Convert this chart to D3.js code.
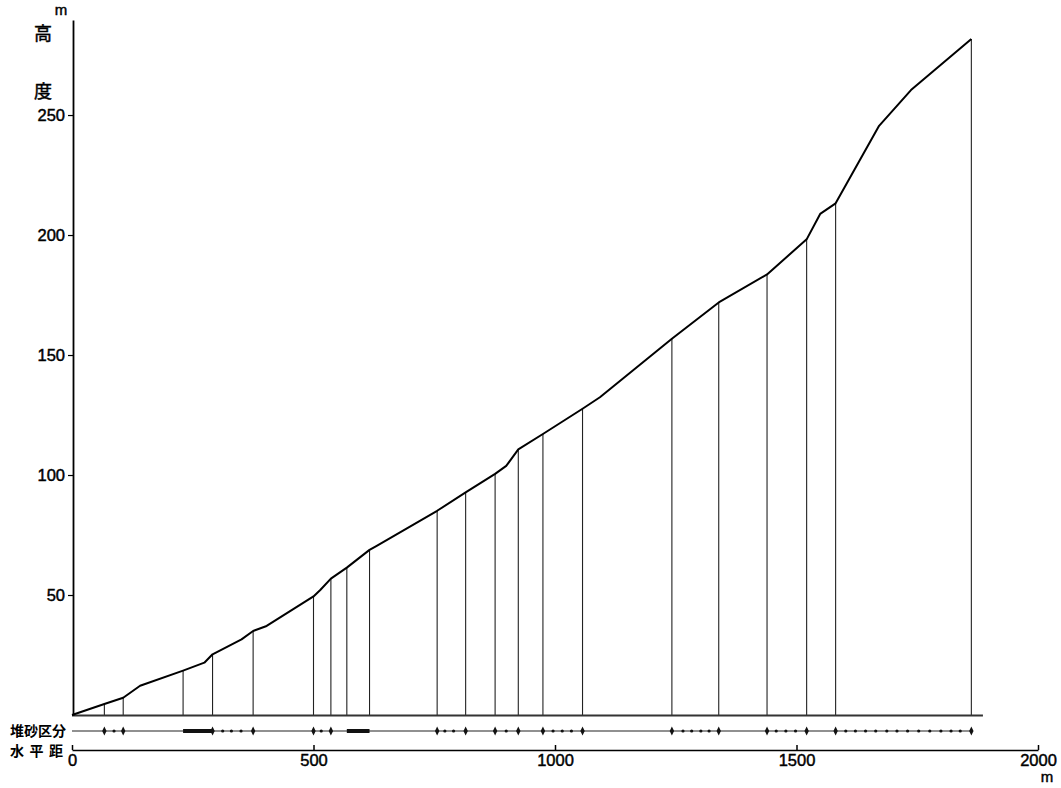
<!DOCTYPE html>
<html>
<head>
<meta charset="utf-8">
<script src="https://cdn.jsdelivr.net/npm/d3@7"></script>
<style>
  html, body { margin: 0; padding: 0; background: #fff; }
  svg { display: block; font-family: "Liberation Sans", Arial, sans-serif; }
  .cjk { font-family: "Noto Sans CJK JP", "Noto Sans CJK SC", sans-serif; }
  .heavy { stroke: #000; stroke-width: 0.45px; }
</style>
</head>
<body>
<div id="chart"></div>
<script>
/* --- data (horizontal distance m, elevation m) ------------------------- */
const profileDist = [0, 67, 106, 141, 230, 274, 291, 351, 375, 403, 500, 514, 536, 569, 616, 630,
  756, 815, 876, 899, 924, 975, 1057, 1093, 1242, 1339, 1439, 1521, 1549, 1581, 1671, 1737, 1862];
const profileElev = [0, 4.6, 7.2, 12.2, 18.5, 21.8, 25.3, 31.5, 35, 37.1, 49.4, 52.1, 56.8, 61.4, 68.8, 70.4,
  85.1, 92.8, 100.5, 103.8, 110.7, 117.1, 127.6, 132.4, 156.8, 171.9, 183.6, 198.2, 208.8, 213.2, 245.5, 260.4, 281.7];

// section lines dropped from the profile
const sectionDist = [67, 106, 230, 291, 375, 500, 536, 569, 616, 756, 815, 876, 924, 975, 1057,
  1242, 1339, 1439, 1521, 1581, 1862];

// 堆砂区分 row
const bigMarks = [67, 106, 291, 375, 500, 536, 756, 815, 876, 924, 975, 1057, 1242, 1339, 1439, 1521, 1581, 1862];
const smallMarks = [87, 312, 330, 350, 516, 772, 790, 899, 996, 1015, 1034,
  1265, 1283, 1302, 1319, 1458, 1478, 1498,
  1602, 1622, 1643, 1664, 1687, 1708, 1730, 1753, 1776, 1799, 1820, 1839];
const thickBars = [[230, 291], [569, 616]];

const yTicks = [50, 100, 150, 200, 250];
const xTicks = [0, 500, 1000, 1500, 2000];
const distLabel = ["水", "平", "距"];

/* --- layout ------------------------------------------------------------ */
const W = 1061, H = 788;
const baseY = 715, rowY = 731, axisY = 750;
const numFont = "Liberation Sans, Arial, sans-serif";

const svg = d3.select("#chart").append("svg")
  .attr("width", W)
  .attr("height", H);

const x = d3.scaleLinear().domain([0, 2000]).range([72, 1038]);
const y = d3.scaleLinear().domain([0, 289.6]).range([baseY, 20]);

/* --- section verticals ------------------------------------------------- */
const pts = profileDist.map((d, i) => ({ d, e: profileElev[i] }));
const elevAt = d => {
  const i = profileDist.indexOf(d);
  return i >= 0 ? profileElev[i] : 0;
};

svg.append("g")
  .selectAll("line")
  .data(sectionDist)
  .join("line")
    .attr("x1", d => x(d)).attr("x2", d => x(d))
    .attr("y1", baseY).attr("y2", d => y(elevAt(d)))
    .attr("stroke", "#222")
    .attr("stroke-width", 1.1);

/* --- ground baseline ---------------------------------------------------- */
svg.append("line")
  .attr("x1", x(0)).attr("x2", x(1886))
  .attr("y1", baseY + 0.5).attr("y2", baseY + 0.5)
  .attr("stroke", "#333")
  .attr("stroke-width", 1.8);

/* --- profile line ------------------------------------------------------- */
svg.append("path")
  .datum(pts)
  .attr("fill", "none")
  .attr("stroke", "#000")
  .attr("stroke-width", 2)
  .attr("stroke-linejoin", "round")
  .attr("d", d3.line().x(p => x(p.d)).y(p => y(p.e)));

/* --- y axis ------------------------------------------------------------- */
const yAxis = svg.append("g")
  .attr("transform", `translate(${x(0) + 1},0)`)
  .call(d3.axisLeft(y).tickValues(yTicks).tickFormat(d3.format("d"))
    .tickSize(5).tickSizeOuter(0).tickPadding(3));
yAxis.select(".domain").attr("stroke", "#000").attr("stroke-width", 1.8);
yAxis.selectAll(".tick line").attr("stroke", "#000").attr("stroke-width", 1.2);
yAxis.selectAll("text")
  .attr("class", "heavy")
  .attr("fill", "#000")
  .style("font-size", "16.5px")
  .style("font-family", numFont);

svg.append("text").attr("class", "heavy").attr("x", 61).attr("y", 15).text("m")
  .style("font-size", "15px").attr("text-anchor", "middle");
svg.append("text").attr("class", "cjk heavy").attr("x", 43).attr("y", 40).text("高")
  .style("font-size", "18px").attr("text-anchor", "middle");
svg.append("text").attr("class", "cjk heavy").attr("x", 43).attr("y", 98).text("度")
  .style("font-size", "18px").attr("text-anchor", "middle");

/* --- 堆砂区分 row -------------------------------------------------------- */
const row = svg.append("g");
row.append("line")
  .attr("x1", x(0)).attr("x2", x(1862))
  .attr("y1", rowY).attr("y2", rowY)
  .attr("stroke", "#222").attr("stroke-width", 1.1);

row.selectAll("rect")
  .data(thickBars)
  .join("rect")
    .attr("x", d => x(d[0]))
    .attr("y", rowY - 2)
    .attr("width", d => x(d[1]) - x(d[0]))
    .attr("height", 4)
    .attr("fill", "#111");

row.selectAll("circle")
  .data(smallMarks)
  .join("circle")
    .attr("cx", d => x(d))
    .attr("cy", rowY)
    .attr("r", 1.6)
    .attr("fill", "#111");

row.selectAll("path")
  .data(bigMarks)
  .join("path")
    .attr("transform", d => `translate(${x(d)},${rowY})`)
    .attr("d", "M0,-4.5L2.2,0L0,4.5L-2.2,0Z")
    .attr("fill", "#111");

svg.append("text").attr("class", "cjk").attr("x", 10).attr("y", 736).text("堆砂区分")
  .style("font-size", "14px").style("font-weight", "bold");

/* --- horizontal distance axis ------------------------------------------ */
const xAxis = svg.append("g")
  .attr("transform", `translate(0,${axisY})`)
  .call(d3.axisBottom(x).tickValues(xTicks).tickFormat(d3.format("d"))
    .tickSize(-5).tickSizeOuter(0).tickPadding(4));
xAxis.select(".domain").attr("stroke", "#000").attr("stroke-width", 1.5);
xAxis.selectAll(".tick line").attr("stroke", "#000").attr("stroke-width", 1.5);
xAxis.selectAll("text")
  .attr("class", "heavy")
  .attr("fill", "#000")
  .style("font-size", "16.5px")
  .style("font-family", numFont);

svg.append("text").attr("class", "heavy").attr("x", 1047).attr("y", 782).text("m")
  .style("font-size", "15px").attr("text-anchor", "middle");

svg.append("g")
  .selectAll("text")
  .data(distLabel)
  .join("text")
    .attr("class", "cjk")
    .attr("x", (d, i) => 17 + i * 19.5)
    .attr("y", 756)
    .attr("text-anchor", "middle")
    .style("font-size", "14px")
    .style("font-weight", "bold")
    .text(d => d);
</script>
</body>
</html>
